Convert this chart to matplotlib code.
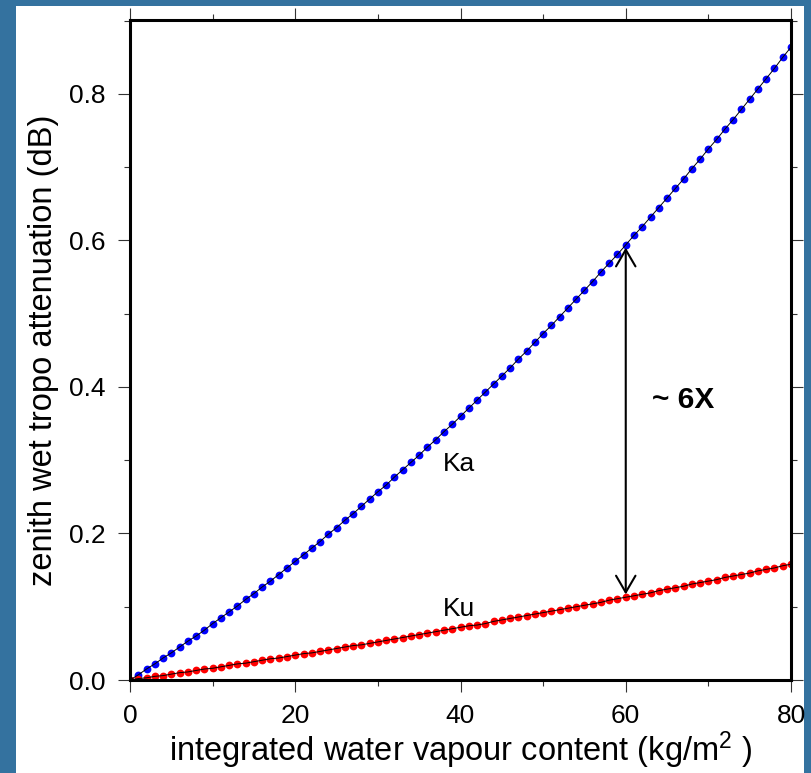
import matplotlib
matplotlib.use('Agg')
import matplotlib.pyplot as plt
from matplotlib.patches import Rectangle, FancyArrowPatch
from matplotlib.ticker import MultipleLocator

plt.rcParams['font.family'] = ['Liberation Sans', 'DejaVu Sans']
plt.rcParams['mathtext.fontset'] = 'custom'
plt.rcParams['mathtext.rm'] = 'Liberation Sans'
plt.rcParams['mathtext.it'] = 'Liberation Sans:italic'

# integrated water vapour (kg/m^2), one point per unit
iwv = list(range(0, 81))

# Ka-band zenith wet attenuation (dB)
ka_atten = [
    0.000, 0.007, 0.015, 0.022, 0.030, 0.037, 0.045, 0.053, 0.060, 0.068,
    0.077, 0.085, 0.093, 0.101, 0.110, 0.118, 0.127, 0.135, 0.144, 0.153,
    0.162, 0.171, 0.180, 0.189, 0.199, 0.208, 0.218, 0.227, 0.237, 0.247,
    0.257, 0.266, 0.277, 0.287, 0.297, 0.307, 0.318, 0.328, 0.339, 0.349,
    0.360, 0.371, 0.382, 0.393, 0.404, 0.415, 0.426, 0.438, 0.449, 0.461,
    0.473, 0.484, 0.496, 0.508, 0.520, 0.532, 0.544, 0.557, 0.569, 0.581,
    0.594, 0.607, 0.619, 0.632, 0.645, 0.658, 0.671, 0.684, 0.698, 0.711,
    0.725, 0.738, 0.752, 0.765, 0.779, 0.793, 0.807, 0.821, 0.835, 0.850,
    0.864,
]

# Ku-band zenith wet attenuation (dB)
ku_atten = [
    0.000, 0.002, 0.003, 0.005, 0.006, 0.008, 0.010, 0.011, 0.013, 0.015,
    0.016, 0.018, 0.020, 0.022, 0.023, 0.025, 0.027, 0.029, 0.030, 0.032,
    0.034, 0.036, 0.037, 0.039, 0.041, 0.043, 0.045, 0.047, 0.048, 0.050,
    0.052, 0.054, 0.056, 0.058, 0.060, 0.062, 0.064, 0.066, 0.068, 0.070,
    0.072, 0.074, 0.075, 0.077, 0.080, 0.082, 0.084, 0.086, 0.088, 0.090,
    0.092, 0.094, 0.096, 0.098, 0.100, 0.102, 0.104, 0.106, 0.109, 0.111,
    0.113, 0.115, 0.117, 0.119, 0.122, 0.124, 0.126, 0.128, 0.131, 0.133,
    0.135, 0.137, 0.140, 0.142, 0.144, 0.146, 0.149, 0.151, 0.153, 0.156,
    0.158,
]

ratio_x = 60
ratio_top = ka_atten[iwv.index(ratio_x)]
ratio_bot = ku_atten[iwv.index(ratio_x)]

fig = plt.figure(figsize=(8.12, 7.73), dpi=100, facecolor='#34729f')
# white panel on the blue slide background
fig.patches.append(Rectangle((16 / 812, 0), 788 / 812, 767 / 773,
                             transform=fig.transFigure, facecolor='white',
                             edgecolor='none', zorder=-5))

ax = fig.add_axes([130 / 812, 93 / 773, 661 / 812, 660 / 773])

ax.plot(iwv, ka_atten, 'o', color='#0000ff', markersize=5.6,
        markeredgewidth=0, zorder=2)
ax.plot(iwv, ka_atten, '-', color='black', linewidth=0.7, zorder=3)
ax.plot(iwv, ku_atten, 'o', color='#ff0000', markersize=5.6,
        markeredgewidth=0, zorder=2)
ax.plot(iwv, ku_atten, '-', color='black', linewidth=0.7, zorder=3)

arrow = FancyArrowPatch((ratio_x, ratio_top), (ratio_x, ratio_bot),
                        arrowstyle='<->,head_length=0.6,head_width=0.35',
                        mutation_scale=20, color='black', linewidth=1.5,
                        zorder=4)
ax.add_patch(arrow)
ax.text(63.2, 0.371, '~ 6X', fontsize=21.5, fontweight='bold')
ax.text(37.9, 0.285, 'Ka', fontsize=19)
ax.text(37.9, 0.087, 'Ku', fontsize=19)

ax.set_xlim(0, 80)
ax.set_ylim(0, 0.901)
ax.xaxis.set_major_locator(MultipleLocator(20))
ax.xaxis.set_minor_locator(MultipleLocator(10))
ax.yaxis.set_major_locator(MultipleLocator(0.2))
ax.yaxis.set_minor_locator(MultipleLocator(0.1))
ax.yaxis.set_major_formatter(plt.FormatStrFormatter('%.1f'))
ax.tick_params(which='both', direction='out', top=True, right=True,
               width=0.8, color='#333333', labelsize=19)
ax.tick_params(which='major', length=8.6, pad=9)
ax.tick_params(which='minor', length=4.3)
for s in ax.spines.values():
    s.set_linewidth(2.2)

ax.set_xlabel('integrated water vapour content (kg/m$^2$ )', fontsize=23.5,
              labelpad=1)
ax.set_ylabel('zenith wet tropo attenuation (dB)', fontsize=23.5, labelpad=7)

fig.savefig('out.png', dpi=100, facecolor=fig.get_facecolor())
